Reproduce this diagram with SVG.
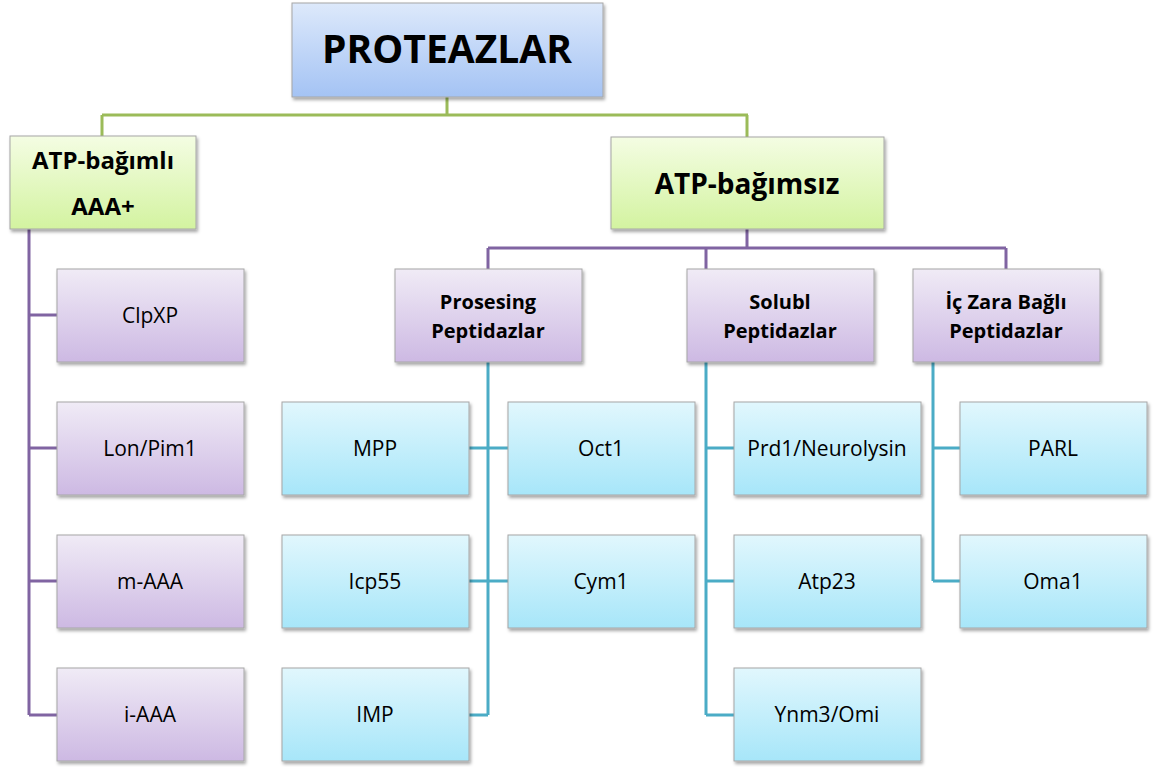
<svg xmlns="http://www.w3.org/2000/svg" width="1160" height="767" viewBox="0 0 1160 767">
<defs>
<linearGradient id="gBlue" x1="0" y1="0" x2="0" y2="1"><stop offset="0" stop-color="#dde9fb"/><stop offset="1" stop-color="#a4c3f4"/></linearGradient>
<linearGradient id="gGreen" x1="0" y1="0" x2="0" y2="1"><stop offset="0" stop-color="#f4fde3"/><stop offset="1" stop-color="#d3f3a0"/></linearGradient>
<linearGradient id="gPurple" x1="0" y1="0" x2="0" y2="1"><stop offset="0" stop-color="#f0ebf6"/><stop offset="1" stop-color="#cdb9e3"/></linearGradient>
<linearGradient id="gCyan" x1="0" y1="0" x2="0" y2="1"><stop offset="0" stop-color="#e1f7fd"/><stop offset="1" stop-color="#a7e6f9"/></linearGradient>
<filter id="sh" x="-10%" y="-10%" width="125%" height="130%"><feDropShadow dx="1.5" dy="2.5" stdDeviation="1.8" flood-color="#000" flood-opacity="0.35"/></filter>
</defs>
<style>
rect{stroke:#a6a6a6;stroke-width:1;filter:url(#sh)}
.top{fill:url(#gBlue)}
.grn{fill:url(#gGreen)}
.pur{fill:url(#gPurple)}
.cyn{fill:url(#gCyan)}
text{font-family:"Open Sans","Liberation Sans",sans-serif;fill:#000;text-anchor:middle}
.b{font-weight:bold}
.t1{font-size:39px}
.t2{font-size:24px}
.t3{font-size:28px}
.t4{font-size:20px}
.t5{font-size:21px}
.cg{stroke:#9bbb59;stroke-width:3;fill:none}
.cp{stroke:#8064a2;stroke-width:3;fill:none}
.cb{stroke:#4bacc6;stroke-width:3;fill:none}
</style>
<g id="connectors">
<path class="cg" d="M447 97V115M102 115H748M102 115V136M747 115V137"/>
<path class="cp" d="M747 229V248M488 248H1006M488 248V269M706 248V269M1006 248V269"/>
<path class="cp" d="M29 229V715M29 315H57M29 448H57M29 581H57M29 715H57"/>
<path class="cb" d="M488 362V715M469 448H508M469 581H508M469 715H488"/>
<path class="cb" d="M706 362V715M706 448H734M706 581H734M706 715H734"/>
<path class="cb" d="M933 362V581M933 448H960M933 581H960"/>
</g>
<g id="n-proteazlar"><rect class="top" x="292" y="3" width="311" height="94"/><text class="b t1" x="447" y="63">PROTEAZLAR</text></g>
<g id="n-atp-bagimli"><rect class="grn" x="10" y="136" width="186" height="93"/><text class="b t2" x="103" y="169">ATP-bağımlı</text><text class="b t2" x="103" y="215">AAA+</text></g>
<g id="n-atp-bagimsiz"><rect class="grn" x="611" y="137" width="273" height="92"/><text class="b t3" x="747" y="194">ATP-bağımsız</text></g>
<g id="n-clpxp"><rect class="pur" x="57" y="269" width="187" height="93"/><text class="t5" x="150" y="323">ClpXP</text></g>
<g id="n-lon"><rect class="pur" x="57" y="402" width="187" height="93"/><text class="t5" x="150" y="456">Lon/Pim1</text></g>
<g id="n-maaa"><rect class="pur" x="57" y="535" width="187" height="93"/><text class="t5" x="150" y="589">m-AAA</text></g>
<g id="n-iaaa"><rect class="pur" x="57" y="668" width="187" height="93"/><text class="t5" x="150" y="722">i-AAA</text></g>
<g id="n-prosesing"><rect class="pur" x="395" y="269" width="187" height="93"/><text class="b t4" x="488" y="309">Prosesing</text><text class="b t4" x="488" y="338">Peptidazlar</text></g>
<g id="n-solubl"><rect class="pur" x="687" y="269" width="187" height="93"/><text class="b t4" x="780" y="309">Solubl</text><text class="b t4" x="780" y="338">Peptidazlar</text></g>
<g id="n-iczara"><rect class="pur" x="913" y="269" width="187" height="93"/><text class="b t4" x="1006" y="309">İç Zara Bağlı</text><text class="b t4" x="1006" y="338">Peptidazlar</text></g>
<g id="n-mpp"><rect class="cyn" x="282" y="402" width="187" height="93"/><text class="t5" x="375" y="456">MPP</text></g>
<g id="n-oct1"><rect class="cyn" x="508" y="402" width="187" height="93"/><text class="t5" x="601" y="456">Oct1</text></g>
<g id="n-icp55"><rect class="cyn" x="282" y="535" width="187" height="93"/><text class="t5" x="375" y="589">Icp55</text></g>
<g id="n-cym1"><rect class="cyn" x="508" y="535" width="187" height="93"/><text class="t5" x="601" y="589">Cym1</text></g>
<g id="n-imp"><rect class="cyn" x="282" y="668" width="187" height="93"/><text class="t5" x="375" y="722">IMP</text></g>
<g id="n-prd1"><rect class="cyn" x="734" y="402" width="187" height="93"/><text class="t5" x="827" y="456">Prd1/Neurolysin</text></g>
<g id="n-atp23"><rect class="cyn" x="734" y="535" width="187" height="93"/><text class="t5" x="827" y="589">Atp23</text></g>
<g id="n-ynm3"><rect class="cyn" x="734" y="668" width="187" height="93"/><text class="t5" x="827" y="722">Ynm3/Omi</text></g>
<g id="n-parl"><rect class="cyn" x="960" y="402" width="187" height="93"/><text class="t5" x="1053" y="456">PARL</text></g>
<g id="n-oma1"><rect class="cyn" x="960" y="535" width="187" height="93"/><text class="t5" x="1053" y="589">Oma1</text></g>
</svg>
